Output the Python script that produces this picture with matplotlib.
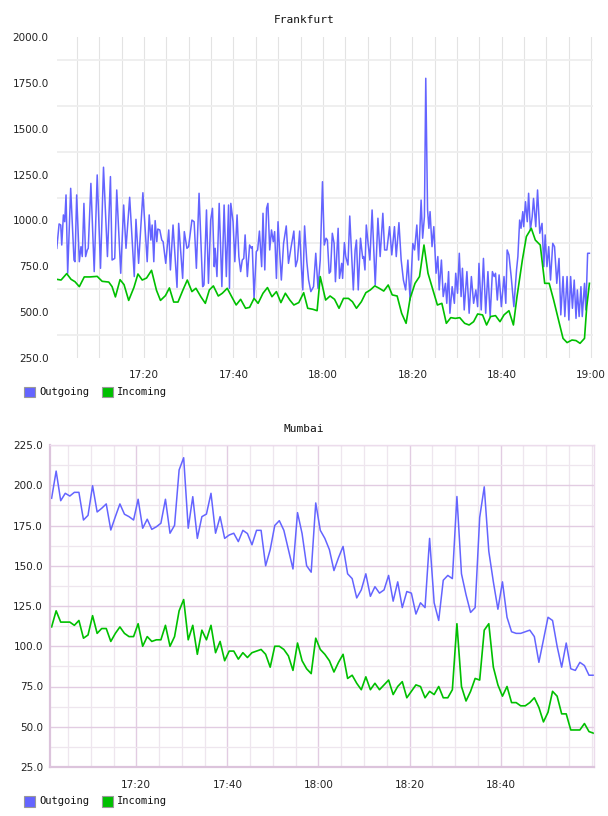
import numpy as np
import matplotlib
matplotlib.use('Agg')
import matplotlib.pyplot as plt
from matplotlib.ticker import MultipleLocator, FixedLocator, FuncFormatter
from matplotlib.patches import Rectangle

# Frankfurt - minutes after 17:00 and traffic values
fra_out_t = [0.48, 1.0, 1.37, 1.59, 1.96, 2.26, 2.55, 2.92, 3.59, 4.33, 4.55, 4.93, 5.52, 5.89, 6.18,
             6.55, 6.93, 7.3, 7.52, 8.11, 8.85, 9.52, 10.26, 10.93, 11.81, 12.48, 12.85, 13.44, 13.89,
             14.78, 15.44, 15.96, 16.78, 17.81, 18.19, 18.78, 19.74, 20.7, 21.15, 21.52, 21.81, 22.18,
             22.48, 22.85, 23.07, 23.52, 23.96, 24.26, 24.85, 25.52, 25.89, 26.48, 27.37, 27.74, 28.63,
             29.0, 29.59, 29.96, 30.7, 31.2, 31.7, 32.3, 33.1, 33.4, 33.96, 34.4, 34.9, 35.3, 35.7, 35.9,
             36.3, 36.8, 37.4, 37.9, 38.4, 38.9, 39.1, 39.4, 39.9, 40.3, 40.8, 41.2, 41.6, 41.96, 42.3,
             42.6, 43.1, 43.6, 44.0, 44.2, 44.6, 45.1, 45.4, 45.8, 46.3, 46.6, 47.0, 47.4, 47.7, 48.1,
             48.5, 48.9, 49.2, 49.6, 49.96, 50.3, 50.7, 51.2, 51.8, 52.3, 52.9, 53.5, 53.9, 54.3, 54.8,
             55.2, 55.5, 55.9, 56.4, 56.8, 57.3, 57.9, 58.4, 58.9, 59.4, 59.9, 60.3, 60.7, 61.0, 61.4,
             61.7, 62.1, 62.5, 62.8, 63.4, 63.7, 64.2, 64.4, 64.8, 65.1, 65.6, 66.0, 66.8, 67.2, 67.5,
             67.9, 68.4, 68.9, 69.1, 69.4, 69.7, 70.1, 70.5, 71.0, 71.7, 72.3, 72.8, 73.4, 73.8, 74.3,
             74.9, 75.4, 76.0, 76.4, 77.0, 77.5, 78.0, 78.5, 79.0, 79.5, 80.1, 80.5, 81.0, 81.4, 81.96,
             82.3, 82.7, 83.0, 83.4, 83.7, 83.96, 84.4, 84.8, 85.3, 85.7, 86.0, 86.5, 86.9, 87.4, 87.7,
             88.1, 88.4, 88.9, 89.4, 89.7, 90.1, 90.5, 90.9, 91.2, 91.6, 92.2, 92.7, 93.2, 93.7, 94.2,
             94.6, 94.9, 95.4, 95.9, 96.4, 96.9, 97.4, 97.9, 98.3, 98.6, 99.0, 99.4, 99.9, 100.5, 100.9,
             101.2, 101.6, 102.1, 102.7, 103.3, 103.6, 104.0, 104.3, 104.7, 104.9, 105.3, 105.7, 106.0,
             106.4, 106.8, 107.1, 107.6, 108.0, 108.5, 109.0, 109.4, 109.7, 110.1, 110.5, 110.9, 111.4,
             111.8, 112.3, 112.8, 113.2, 113.7, 114.1, 114.6, 115.0, 115.4, 115.8, 116.2, 116.6, 116.9,
             117.3, 117.7, 118.0, 118.5, 118.8, 119.2, 119.6]
fra_out_v = [848, 981, 975, 866, 1030, 993, 1139, 712, 1175, 784, 775, 1139, 775, 857, 803,
             1093, 803, 839, 848, 1202, 721, 1248, 739, 1290, 803, 1239, 784, 793, 1166,
             712, 1084, 848, 1126, 694, 1006, 766, 1151, 775, 1030, 893, 975, 775,
             999, 884, 953, 948, 893, 884, 766, 948, 730, 975, 635, 984, 684,
             939, 848, 857, 1002, 993, 739, 1148, 639, 648, 1057, 657, 1002, 1066, 748, 848,
             694, 1093, 639, 1084, 694, 1084, 630, 1093, 993, 775, 1030, 803, 721, 784, 793,
             921, 694, 866, 848, 857, 575, 830, 839, 942, 748, 1039, 730, 1066, 1093, 839,
             948, 884, 939, 684, 993, 839, 675, 875, 970, 766, 857, 942, 748, 784, 942,
             739, 621, 970, 775, 675, 612, 639, 821, 630, 784, 1211, 866, 903, 893, 712,
             721, 930, 875, 666, 957, 684, 766, 684, 879, 803, 757, 1024, 621, 839, 893,
             621, 903, 793, 803, 730, 975, 875, 784, 1057, 648, 1012, 803, 1039, 839, 839,
             966, 812, 966, 803, 988, 784, 675, 621, 784, 566, 875, 839, 975, 784, 1111,
             903, 1021, 1775, 1057, 957, 1048, 857, 966, 712, 803, 621, 784, 585, 657, 548,
             721, 494, 639, 548, 712, 603, 821, 585, 739, 512, 721, 494, 694, 548, 621,
             530, 766, 512, 793, 494, 721, 476, 721, 694, 712, 566, 703, 530, 694, 548,
             839, 812, 694, 530, 730, 803, 1002, 957, 1048, 966, 1102, 993, 1148,
             948, 1021, 1120, 966, 1166, 930, 984, 748, 921, 748, 857, 675, 875,
             857, 657, 793, 485, 694, 476, 694, 457, 694, 521, 675, 466, 621,
             476, 639, 476, 657, 512, 821, 821]

fra_in_t = [0.48, 1.44, 2.7, 3.67, 4.55, 5.52, 6.63, 7.89, 9.52, 10.63, 12.11, 12.85, 13.59, 14.63,
            15.52, 16.56, 17.74, 18.63, 19.59, 20.56, 21.67, 22.78, 23.67, 24.78, 25.67, 26.63, 27.59,
            28.7, 29.67, 30.7, 31.6, 32.7, 33.7, 34.6, 35.5, 36.6, 37.5, 38.6, 39.6, 40.6, 41.6, 42.7,
            43.6, 44.6, 45.5, 46.6, 47.6, 48.6, 49.6, 50.6, 51.6, 52.6, 53.5, 54.6, 55.7, 56.6, 57.7,
            58.7, 59.4, 60.6, 61.6, 62.6, 63.6, 64.6, 65.7, 66.6, 67.5, 68.6, 69.6, 70.6, 71.6, 72.6,
            73.6, 74.6, 75.5, 76.6, 77.6, 78.6, 79.5, 80.6, 81.6, 82.6, 83.5, 84.6, 85.6, 86.6, 87.6,
            88.6, 89.6, 90.6, 91.7, 92.7, 93.7, 94.6, 95.7, 96.6, 97.5, 98.6, 99.6, 100.5, 101.6,
            102.6, 103.4, 104.6, 105.5, 106.6, 107.5, 108.6, 109.6, 110.6, 111.6, 112.6, 113.7,
            114.6, 115.7, 116.6, 117.5, 118.5, 119.0, 119.6]
fra_in_v = [679, 675, 710, 679, 666, 639, 692, 692, 695, 668, 664, 639, 583, 677,
            650, 564, 635, 708, 675, 686, 728, 619, 564, 590, 632, 555, 555,
            621, 675, 612, 630, 584, 548, 621, 643, 588, 603, 630, 584, 539, 570, 521,
            526, 575, 548, 603, 634, 584, 612, 552, 603, 566, 539, 552, 606, 521, 516,
            508, 694, 566, 588, 570, 521, 575, 575, 557, 521, 557, 606, 621, 643, 630,
            615, 648, 594, 588, 494, 439, 575, 657, 694, 866, 712, 621, 539, 548, 439,
            470, 466, 470, 439, 430, 448, 490, 485, 430, 476, 481, 448, 485, 508,
            430, 584, 784, 912, 957, 893, 866, 657, 657, 566, 466, 357,
            334, 348, 345, 330, 357, 530, 657]

# Mumbai - one sample per minute, starting 17:01
mum_start = 1.4
mum_out = [191.9, 208.8, 190.4, 195.0, 193.3, 195.6, 195.6, 178.4, 181.3, 199.7,
           183.4, 185.7, 188.4, 172.2, 180.5, 188.4, 182.0, 180.5, 178.4, 191.3,
           173.3, 178.9, 172.6, 174.2, 176.4, 191.3, 170.2, 175.1, 209.5, 217.1,
           173.3, 192.9, 167.0, 180.5, 182.1, 195.0, 170.2, 180.5, 167.0, 169.1,
           170.2, 165, 172, 170, 163, 172, 172, 150, 160, 175,
           178, 172, 160, 148, 183, 170, 150, 146, 189, 172,
           167, 160, 147, 155, 162, 145, 142, 130, 135, 145,
           131, 137, 133, 135, 144, 128, 140, 124, 134, 133,
           120, 127, 124, 167, 127, 116, 141, 144, 142, 193,
           145, 132, 121, 124, 180, 199, 159, 140, 123, 140,
           118, 109, 108, 108, 109, 110, 106, 90, 104, 118,
           116, 100, 87, 102, 86, 85, 90, 88, 82, 82]
mum_in = [112, 122, 115, 115, 115, 113, 116, 105, 107, 119,
          108, 111, 111, 103, 108, 112, 108, 106, 106, 114,
          100, 106, 103, 104, 104, 113, 100, 106, 122, 129,
          104, 113, 95, 110, 104, 113, 96, 103, 91, 97,
          97, 92, 96, 93, 96, 97, 98, 95, 87, 100,
          100, 98, 94, 85, 102, 91, 86, 83, 105, 98,
          95, 91, 84, 90, 95, 80, 82, 77, 73, 81,
          73, 77, 73, 76, 79, 70, 75, 78, 68, 72,
          76, 75, 68, 72, 70, 75, 68, 68, 73, 114,
          75, 66, 72, 80, 79, 110, 114, 87, 76, 69,
          75, 65, 65, 63, 63, 65, 68, 62, 53, 59,
          72, 69, 58, 58, 48, 48, 48, 52, 47, 46]
mum_t = mum_start + np.arange(len(mum_out))

OUT_COLOR = '#6464ff'
IN_COLOR = '#00c000'
W, H = 608, 816


def hhmm(m, pos=None):
    m = int(round(m))
    return f"{17 + m // 60}:{m % 60:02d}"


def legend(y_px):
    for x0, color, label in [(24, OUT_COLOR, 'Outgoing'), (102, IN_COLOR, 'Incoming')]:
        fig.add_artist(Rectangle((x0 / W, 1 - (y_px + 5.5) / H), 11 / W, 11 / H,
                                 facecolor=color, edgecolor='#999999', lw=0.8,
                                 transform=fig.transFigure))
        fig.text((x0 + 15) / W, 1 - y_px / H, label, family='DejaVu Sans Mono',
                 fontsize=7.5, va='center', ha='left', color='#111111')


fig = plt.figure(figsize=(W / 100, H / 100), dpi=100)

# ---- Frankfurt ----
ax1 = fig.add_axes([57 / W, 1 - 358 / H, 536 / W, 321 / H])
ax1.plot(fra_out_t, fra_out_v, color=OUT_COLOR, lw=1.1)
ax1.plot(fra_in_t, fra_in_v, color=IN_COLOR, lw=1.2)
ax1.set_xlim(0.53, 120.4)
ax1.set_ylim(250, 2000)
ax1.yaxis.set_major_locator(MultipleLocator(250))
ax1.yaxis.set_minor_locator(FixedLocator(np.arange(375, 2000, 250)))
ax1.yaxis.set_major_formatter(FuncFormatter(lambda v, p: f"{v:.1f}"))
ax1.xaxis.set_major_locator(FixedLocator([20, 40, 60, 80, 100, 120]))
ax1.xaxis.set_minor_locator(MultipleLocator(5))
ax1.xaxis.set_major_formatter(FuncFormatter(hhmm))
ax1.grid(which='minor', axis='y', color='#eeeeee', lw=1.3)
ax1.grid(which='both', axis='x', color='#e3e3e3', lw=0.8)
ax1.set_axisbelow(True)
for s in ax1.spines.values():
    s.set_visible(False)
ax1.tick_params(which='both', length=0)
ax1.tick_params(axis='y', pad=6)
ax1.tick_params(axis='x', pad=9)
fig.text(0.5, 1 - 20 / H, 'Frankfurt', family='DejaVu Sans Mono', fontsize=8,
         ha='center', va='center', color='#111111')
legend(392)

# ---- Mumbai ----
ax2 = fig.add_axes([50 / W, 1 - 767 / H, 544 / W, 322 / H])
ax2.plot(mum_t, mum_out, color=OUT_COLOR, lw=1.1)
ax2.plot(mum_t, mum_in, color=IN_COLOR, lw=1.2)
ax2.set_xlim(1.05, 120.5)
ax2.set_ylim(25, 225)
ax2.yaxis.set_major_locator(MultipleLocator(25))
ax2.yaxis.set_minor_locator(MultipleLocator(12.5))
ax2.yaxis.set_major_formatter(FuncFormatter(lambda v, p: f"{v:.1f}"))
ax2.xaxis.set_major_locator(FixedLocator([20, 40, 60, 80, 100]))
ax2.xaxis.set_minor_locator(MultipleLocator(5))
ax2.xaxis.set_major_formatter(FuncFormatter(hhmm))
ax2.grid(which='major', color='#e2cce2', lw=1.0)
ax2.grid(which='minor', color='#eee6ee', lw=0.9)
ax2.set_axisbelow(True)
for side in ['left', 'bottom']:
    ax2.spines[side].set_color('#dcc4dc')
    ax2.spines[side].set_linewidth(1.6)
for side in ['top', 'right']:
    ax2.spines[side].set_color('#ecdcec')
    ax2.spines[side].set_linewidth(1.0)
ax2.tick_params(which='both', length=0)
ax2.tick_params(axis='y', pad=5)
ax2.tick_params(axis='x', pad=9)
fig.text(0.5, 1 - 429 / H, 'Mumbai', family='DejaVu Sans Mono', fontsize=8,
         ha='center', va='center', color='#111111')
legend(801)

for ax in (ax1, ax2):
    for lab in ax.get_xticklabels() + ax.get_yticklabels():
        lab.set_fontsize(7.5)
        lab.set_color('#222222')

fig.savefig('out.png', dpi=100)
